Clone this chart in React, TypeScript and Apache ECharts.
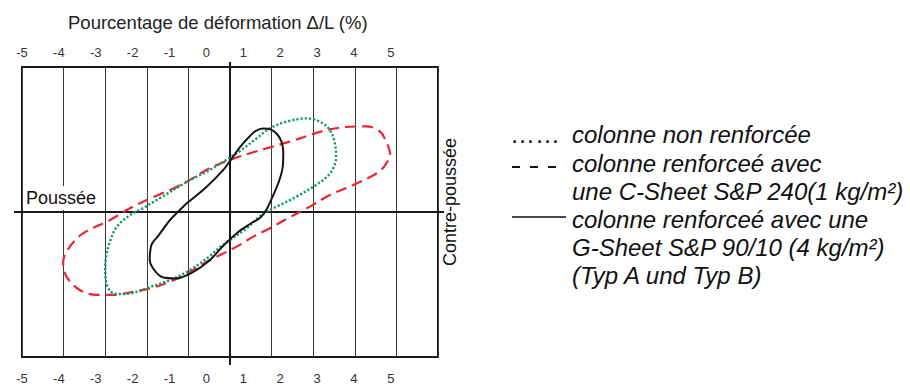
import { useEffect, useRef } from "react";
import * as echarts from "echarts";

// Tick labels printed above and below the frame
const xTickLabels: number[] = [-5, -4, -3, -2, -1, 0, 1, 2, 3, 4, 5];

// Series names (legend texts)
const nameNonRenforcee = "colonne non renforcée";
const nameCSheet = "colonne renforceé avec une C-Sheet S&P 240(1 kg/m²)";
const nameGSheet = "colonne renforceé avec une G-Sheet S&P 90/10 (4 kg/m²)";

// Hysteresis loops: [deformation Δ/L (%), force (relative)]
const cSheetLoop: number[][] = [
  [-1.44, 1.52], [-1.04, 2.09], [-0.48, 3.03], [0, 3.59], [0.48, 4.05], [0.96, 4.46],
  [1.44, 4.85], [1.92, 5.31], [2.4, 5.7], [2.88, 5.88], [3.29, 5.9], [3.61, 5.54],
  [3.77, 4.74], [3.85, 4.0], [3.73, 3.24], [3.53, 2.67], [2.96, 1.86], [2.4, 1.17],
  [1.92, 0.37], [1.36, -0.48], [0.96, -1.12], [0.56, -1.7], [0.16, -2.39], [-0.24, -2.97],
  [-0.48, -3.31], [-0.96, -4.12], [-1.44, -4.81], [-1.92, -5.26], [-2.33, -5.5], [-2.8, -5.72],
  [-3.2, -5.72], [-3.61, -5.38], [-3.93, -4.46], [-4.01, -3.45], [-3.85, -2.39], [-3.53, -1.47],
  [-2.88, -0.55], [-2.48, 0.14], [-2.0, 0.83], [-1.44, 1.52],
];

const nonRenforceeLoop: number[][] = [
  [-1.36, 1.52], [-0.96, 2.21], [-0.56, 2.78], [-0.16, 3.47], [0.24, 4.21], [0.64, 5.08],
  [0.96, 5.77], [1.36, 6.23], [1.84, 6.46], [2.16, 6.23], [2.4, 5.66], [2.52, 4.74],
  [2.55, 3.81], [2.48, 3.01], [2.33, 2.43], [2.0, 1.74], [1.6, 1.06], [1.2, 0.48],
  [0.88, 0.02], [0.67, -0.41], [0.4, -1.12], [0, -1.93], [-0.24, -2.41], [-0.48, -3.03],
  [-0.96, -4.0], [-1.44, -4.69], [-1.92, -5.17], [-2.4, -5.62], [-2.72, -5.66], [-2.84, -5.55],
  [-2.95, -5.1], [-3.0, -4.14], [-2.98, -3.1], [-2.88, -2.0], [-2.72, -1.01], [-2.4, -0.21],
  [-2.08, 0.28], [-1.76, 0.83], [-1.36, 1.52],
];

const gSheetLoop: number[][] = [
  [-1.04, 0.6], [-0.56, 1.74], [-0.16, 2.9], [0, 3.52], [0.24, 4.48], [0.48, 5.24],
  [0.62, 5.59], [0.79, 5.76], [0.97, 5.7], [1.13, 5.38], [1.24, 4.83], [1.28, 4.14],
  [1.27, 3.17], [1.18, 2.14], [1.01, 0.97], [0.87, 0.14], [0.72, -0.41], [0.48, -0.83],
  [0.17, -1.45], [-0.19, -2.41], [-0.48, -3.31], [-0.89, -4.14], [-1.3, -4.58], [-1.62, -4.5],
  [-1.82, -4.0], [-1.93, -3.31], [-1.92, -2.76], [-1.88, -2.21], [-1.73, -1.66], [-1.44, -0.55],
  [-1.04, 0.6],
];

const FONT = "'Liberation Sans', Arial, Helvetica, sans-serif";

export default function App() {
  const ref = useRef<HTMLDivElement>(null);

  useEffect(() => {
    if (!ref.current) return;
    const chart = echarts.init(ref.current, null, { renderer: "svg" });

    const labelAxis = (position: "top" | "bottom", margin: number) => ({
      type: "value",
      position,
      min: -5,
      max: 6.28,
      interval: 1,
      axisLine: { show: false, onZero: false },
      axisTick: { show: false },
      splitLine: { show: false },
      axisLabel: {
        show: true,
        customValues: xTickLabels,
        margin,
        fontSize: 13,
        color: "#333",
        fontFamily: FONT,
        showMinLabel: true,
        showMaxLabel: true,
        formatter: (v: number) => (v > 5.5 ? "" : String(v)),
      },
    });

    const tickAxisX = (position: "top" | "bottom", length: number) => ({
      type: "value",
      position,
      min: -5,
      max: 5,
      interval: 1,
      axisLine: { show: false, onZero: false },
      axisLabel: { show: false },
      splitLine: { show: false },
      axisTick: {
        show: true,
        customValues: [0],
        length,
        lineStyle: { color: "#1a1a1a", width: 2 },
      },
    });

    const tickAxisY = (position: "left" | "right", length: number) => ({
      type: "value",
      position,
      min: -10,
      max: 10,
      interval: 1,
      axisLine: { show: false, onZero: false },
      axisLabel: { show: false },
      splitLine: { show: false },
      axisTick: {
        show: true,
        customValues: [0],
        length,
        lineStyle: { color: "#1a1a1a", width: 2 },
      },
    });

    const option: any = {
      animation: false,
      backgroundColor: "#ffffff",
      title: {
        text: "Pourcentage de déformation Δ/L (%)",
        left: 68,
        top: 13,
        padding: 0,
        textStyle: { fontSize: 18.5, fontWeight: "normal", color: "#222", fontFamily: FONT },
      },
      grid: {
        left: 22,
        top: 67,
        width: 416,
        height: 290,
        show: true,
        borderColor: "#1a1a1a",
        borderWidth: 2,
        backgroundColor: "transparent",
      },
      xAxis: [
        {
          type: "value",
          position: "bottom",
          min: -5,
          max: 5,
          interval: 1,
          axisLine: {
            show: true,
            onZero: true,
            onZeroAxisIndex: 0,
            lineStyle: { color: "#1a1a1a", width: 2 },
          },
          axisTick: { show: false },
          axisLabel: { show: false },
          splitLine: { show: true, lineStyle: { color: "#3a3a3a", width: 1 } },
        },
        labelAxis("top", 8),
        labelAxis("bottom", 15),
        tickAxisX("top", 5),
        tickAxisX("bottom", 8),
      ],
      yAxis: [
        {
          type: "value",
          min: -10,
          max: 10,
          axisLine: {
            show: true,
            onZero: true,
            onZeroAxisIndex: 0,
            lineStyle: { color: "#1a1a1a", width: 2 },
          },
          axisTick: { show: false },
          axisLabel: { show: false },
          splitLine: { show: false },
        },
        tickAxisY("left", 8),
        tickAxisY("right", 6),
      ],
      series: [
        {
          name: nameCSheet,
          type: "line",
          xAxisIndex: 0,
          yAxisIndex: 0,
          data: cSheetLoop,
          showSymbol: false,
          smooth: 0.35,
          silent: true,
          lineStyle: { color: "#ec2630", width: 2.2, type: [11, 6], cap: "butt" },
          z: 3,
        },
        {
          name: nameNonRenforcee,
          type: "line",
          xAxisIndex: 0,
          yAxisIndex: 0,
          data: nonRenforceeLoop,
          showSymbol: false,
          smooth: 0.35,
          silent: true,
          lineStyle: { color: "#0f9a6c", width: 2.4, type: [2.2, 2], cap: "butt" },
          z: 4,
        },
        {
          name: nameGSheet,
          type: "line",
          xAxisIndex: 0,
          yAxisIndex: 0,
          data: gSheetLoop,
          showSymbol: false,
          smooth: 0.35,
          silent: true,
          lineStyle: { color: "#151515", width: 2 },
          z: 5,
        },
      ],
      graphic: [
        {
          type: "text",
          x: 24,
          y: 198,
          z: 20,
          style: {
            text: "Poussée",
            fill: "#111",
            fontSize: 18,
            fontFamily: FONT,
            backgroundColor: "#ffffff",
            padding: [3, 2, 3, 2],
            textAlign: "left",
            textVerticalAlign: "middle",
            align: "left",
            verticalAlign: "middle",
          },
        },
        {
          type: "text",
          x: 450,
          y: 202,
          rotation: Math.PI / 2,
          z: 20,
          style: {
            text: "Contre-poussée",
            fill: "#111",
            fontSize: 18,
            fontFamily: FONT,
            textAlign: "center",
            textVerticalAlign: "middle",
            align: "center",
            verticalAlign: "middle",
          },
        },
        // Legend
        {
          type: "text",
          x: 510,
          y: 134,
          z: 20,
          style: {
            text: "……",
            fill: "#111",
            fontSize: 25,
            fontFamily: FONT,
            textAlign: "left",
            textVerticalAlign: "middle",
            align: "left",
            verticalAlign: "middle",
          },
        },
        {
          type: "line",
          z: 20,
          shape: { x1: 512, y1: 167, x2: 557, y2: 167 },
          style: { stroke: "#111", lineWidth: 2, lineDash: [8, 10] },
        },
        {
          type: "line",
          z: 20,
          shape: { x1: 512, y1: 217, x2: 566, y2: 217 },
          style: { stroke: "#111", lineWidth: 1.5 },
        },
        ...[
          { t: nameNonRenforcee, y: 134 },
          { t: "colonne renforceé avec", y: 163 },
          { t: "une C-Sheet S&P 240(1 kg/m²)", y: 191 },
          { t: "colonne renforceé avec une", y: 219 },
          { t: "G-Sheet S&P 90/10 (4 kg/m²)", y: 247 },
          { t: "(Typ A und Typ B)", y: 275 },
        ].map((l) => ({
          type: "text",
          x: 572,
          y: l.y,
          z: 20,
          style: {
            text: l.t,
            fill: "#111",
            fontSize: 24,
            fontStyle: "italic",
            fontFamily: FONT,
            textAlign: "left",
            textVerticalAlign: "middle",
            align: "left",
            verticalAlign: "middle",
          },
        })),
      ],
    };

    chart.setOption(option);
    return () => {
      chart.dispose();
    };
  }, []);

  return (
    <div
      ref={ref}
      style={{ position: "fixed", left: 0, top: 0, width: 910, height: 388, background: "#fff" }}
    />
  );
}
